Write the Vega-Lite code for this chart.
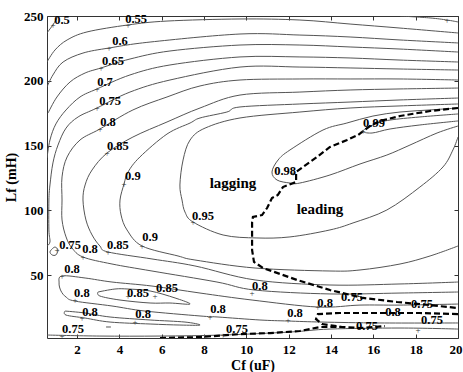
{
"$schema": "https://vega.github.io/schema/vega-lite/v6.json",
"width": 411, "height": 322,
"autosize": {"type": "none"},
"padding": {"left": 47, "top": 16, "right": 5, "bottom": 34},
"background": "white",
"config": {"view": {"stroke": "#333", "strokeWidth": 1}, "font": "Liberation Serif"},
"datasets": {
"contours": [
{"c":"A","o":1,"x":0.58,"y":236.9},{"c":"A","o":2,"x":0.72,"y":240.0},{"c":"A","o":3,"x":0.86,"y":243.1},{"c":"A","o":4,"x":1.0,"y":246.9},{"c":"A","o":5,"x":1.1,"y":250},
{"c":"B","o":1,"x":17.26,"y":250},{"c":"B","o":2,"x":18.68,"y":248.5},{"c":"B","o":3,"x":19.48,"y":246.9},{"c":"B","o":4,"x":20,"y":245.4},
{"c":"C","o":1,"x":0.58,"y":214.5},{"c":"C","o":2,"x":0.96,"y":223.8},{"c":"C","o":3,"x":1.53,"y":231.5},{"c":"C","o":4,"x":2.47,"y":237.7},{"c":"C","o":5,"x":4.41,"y":243.1},{"c":"C","o":6,"x":6.25,"y":246.1},{"c":"C","o":7,"x":9.7,"y":247.7},{"c":"C","o":8,"x":12.53,"y":246.9},{"c":"C","o":9,"x":14.9,"y":243.8},{"c":"C","o":10,"x":17.26,"y":240.7},{"c":"C","o":11,"x":20,"y":236.9},
{"c":"D","o":1,"x":0.58,"y":195.2},{"c":"D","o":2,"x":0.86,"y":204.5},{"c":"D","o":3,"x":1.34,"y":214.5},{"c":"D","o":4,"x":2.28,"y":221.4},{"c":"D","o":5,"x":3.51,"y":225.3},{"c":"D","o":6,"x":5.45,"y":229.9},{"c":"D","o":7,"x":9.7,"y":236.1},{"c":"D","o":8,"x":12.53,"y":235.3},{"c":"D","o":9,"x":14.9,"y":233.8},{"c":"D","o":10,"x":17.26,"y":231.5},{"c":"D","o":11,"x":20,"y":229.2},
{"c":"E","o":1,"x":0.63,"y":175.1},{"c":"E","o":2,"x":1.05,"y":187.5},{"c":"E","o":3,"x":1.67,"y":199.1},{"c":"E","o":4,"x":2.38,"y":206.0},{"c":"E","o":5,"x":3.13,"y":209.9},{"c":"E","o":6,"x":4.5,"y":216.8},{"c":"E","o":7,"x":6.39,"y":223.0},{"c":"E","o":8,"x":9.7,"y":227.6},{"c":"E","o":9,"x":12.53,"y":227.6},{"c":"E","o":10,"x":14.9,"y":226.1},{"c":"E","o":11,"x":17.26,"y":224.5},{"c":"E","o":12,"x":20,"y":222.2},
{"c":"F","o":1,"x":0.58,"y":140.4},{"c":"F","o":2,"x":0.72,"y":154.3},{"c":"F","o":3,"x":1.0,"y":166.7},{"c":"F","o":4,"x":1.48,"y":177.5},{"c":"F","o":5,"x":2.14,"y":187.5},{"c":"F","o":6,"x":2.94,"y":193.7},{"c":"F","o":7,"x":4.5,"y":204.5},{"c":"F","o":8,"x":6.39,"y":212.2},{"c":"F","o":9,"x":9.7,"y":218.4},{"c":"F","o":10,"x":12.53,"y":218.4},{"c":"F","o":11,"x":14.9,"y":217.6},{"c":"F","o":12,"x":17.26,"y":216.0},{"c":"F","o":13,"x":20,"y":214.5},
{"c":"G","o":1,"x":0.58,"y":72.5},{"c":"G","o":2,"x":0.72,"y":75.6},{"c":"G","o":3,"x":0.67,"y":84.9},{"c":"G","o":4,"x":0.67,"y":108.0},{"c":"G","o":5,"x":0.72,"y":119.6},{"c":"G","o":6,"x":0.86,"y":136.6},{"c":"G","o":7,"x":1.1,"y":150.4},{"c":"G","o":8,"x":1.48,"y":163.5},{"c":"G","o":9,"x":2.05,"y":172.1},{"c":"G","o":10,"x":2.94,"y":179.0},{"c":"G","o":11,"x":4.5,"y":191.3},{"c":"G","o":12,"x":6.39,"y":200.6},{"c":"G","o":13,"x":9.7,"y":210.6},{"c":"G","o":14,"x":12.53,"y":210.6},{"c":"G","o":15,"x":14.9,"y":209.9},{"c":"G","o":16,"x":17.26,"y":209.1},{"c":"G","o":17,"x":20,"y":208.3},
{"c":"H","o":1,"x":0.82,"y":70.2},{"c":"H","o":2,"x":0.96,"y":71.7},{"c":"H","o":3,"x":1.1,"y":69.4},{"c":"H","o":4,"x":1.0,"y":65.6},{"c":"H","o":5,"x":0.82,"y":65.6},{"c":"H","o":6,"x":0.72,"y":67.9},{"c":"H","o":7,"x":0.82,"y":70.2},
{"c":"I","o":1,"x":20,"y":200.6},{"c":"I","o":2,"x":17.26,"y":201.4},{"c":"I","o":3,"x":14.9,"y":201.4},{"c":"I","o":4,"x":12.53,"y":201.4},{"c":"I","o":5,"x":9.7,"y":200.6},{"c":"I","o":6,"x":7.81,"y":196.0},{"c":"I","o":7,"x":6.25,"y":187.5},{"c":"I","o":8,"x":4.64,"y":177.5},{"c":"I","o":9,"x":3.08,"y":162.8},{"c":"I","o":10,"x":2.14,"y":154.3},{"c":"I","o":11,"x":1.53,"y":141.2},{"c":"I","o":12,"x":1.29,"y":125.8},{"c":"I","o":13,"x":1.29,"y":108.0},{"c":"I","o":14,"x":1.29,"y":92.6},{"c":"I","o":15,"x":1.48,"y":79.5},{"c":"I","o":16,"x":1.76,"y":71.0},{"c":"I","o":17,"x":2.28,"y":64.0},{"c":"I","o":18,"x":3.65,"y":58.6},{"c":"I","o":19,"x":5.54,"y":53.2},{"c":"I","o":20,"x":8.61,"y":44.7},{"c":"I","o":21,"x":10.41,"y":38.5},{"c":"I","o":22,"x":13.95,"y":35.5},{"c":"I","o":23,"x":17.26,"y":36.2},{"c":"I","o":24,"x":20,"y":37.0},
{"c":"J","o":1,"x":20,"y":194.4},{"c":"J","o":2,"x":17.26,"y":193.7},{"c":"J","o":3,"x":14.9,"y":192.9},{"c":"J","o":4,"x":12.53,"y":191.3},{"c":"J","o":5,"x":9.7,"y":189.0},{"c":"J","o":6,"x":7.81,"y":179.0},{"c":"J","o":7,"x":6.25,"y":168.2},{"c":"J","o":8,"x":4.64,"y":156.6},{"c":"J","o":9,"x":3.42,"y":144.3},{"c":"J","o":10,"x":2.71,"y":131.2},{"c":"J","o":11,"x":2.38,"y":119.6},{"c":"J","o":12,"x":2.28,"y":108.0},{"c":"J","o":13,"x":2.42,"y":92.6},{"c":"J","o":14,"x":2.71,"y":81.0},{"c":"J","o":15,"x":3.08,"y":72.5},{"c":"J","o":16,"x":3.46,"y":67.9},{"c":"J","o":17,"x":5.54,"y":62.5},{"c":"J","o":18,"x":7.57,"y":57.1},{"c":"J","o":19,"x":10.41,"y":46.3},{"c":"J","o":20,"x":13.95,"y":42.4},{"c":"J","o":21,"x":17.26,"y":43.2},{"c":"J","o":22,"x":20,"y":44.7},
{"c":"K","o":1,"x":20,"y":186.7},{"c":"K","o":2,"x":17.26,"y":185.2},{"c":"K","o":3,"x":14.9,"y":183.6},{"c":"K","o":4,"x":12.53,"y":182.1},{"c":"K","o":5,"x":9.7,"y":179.8},{"c":"K","o":6,"x":9.08,"y":175.9},{"c":"K","o":7,"x":7.81,"y":171.3},{"c":"K","o":8,"x":7.34,"y":167.4},{"c":"K","o":9,"x":6.25,"y":158.9},{"c":"K","o":10,"x":4.97,"y":141.2},{"c":"K","o":11,"x":4.41,"y":129.6},{"c":"K","o":12,"x":4.22,"y":120.4},{"c":"K","o":13,"x":4.03,"y":108.0},{"c":"K","o":14,"x":4.08,"y":96.4},{"c":"K","o":15,"x":4.36,"y":84.9},{"c":"K","o":16,"x":5.07,"y":72.5},{"c":"K","o":17,"x":6.77,"y":64.8},{"c":"K","o":18,"x":7.57,"y":61.7},{"c":"K","o":19,"x":10.41,"y":55.5},{"c":"K","o":20,"x":13.95,"y":53.2},{"c":"K","o":21,"x":15.37,"y":54.0},{"c":"K","o":22,"x":17.26,"y":58.6},{"c":"K","o":23,"x":18.68,"y":64.8},{"c":"K","o":24,"x":20,"y":72.5},
{"c":"L","o":1,"x":20,"y":182.1},{"c":"L","o":2,"x":17.26,"y":180.6},{"c":"L","o":3,"x":14.9,"y":179.0},{"c":"L","o":4,"x":12.53,"y":175.9},{"c":"L","o":5,"x":9.7,"y":171.3},{"c":"L","o":6,"x":8.05,"y":163.5},{"c":"L","o":7,"x":7.34,"y":154.3},{"c":"L","o":8,"x":7.01,"y":138.9},{"c":"L","o":9,"x":6.86,"y":119.6},{"c":"L","o":10,"x":6.96,"y":108.0},{"c":"L","o":11,"x":7.1,"y":98.7},{"c":"L","o":12,"x":7.48,"y":91.0},{"c":"L","o":13,"x":8.9,"y":81.0},{"c":"L","o":14,"x":10.5,"y":78.7},{"c":"L","o":15,"x":12.06,"y":79.5},{"c":"L","o":16,"x":13.95,"y":84.9},{"c":"L","o":17,"x":15.04,"y":90.3},{"c":"L","o":18,"x":16.64,"y":100.3},{"c":"L","o":19,"x":18.2,"y":118.0},{"c":"L","o":20,"x":19.29,"y":133.5},{"c":"L","o":21,"x":19.76,"y":146.6},{"c":"L","o":22,"x":20,"y":156.6},
{"c":"M","o":1,"x":20,"y":179.0},{"c":"M","o":2,"x":18.68,"y":177.5},{"c":"M","o":3,"x":17.26,"y":175.9},{"c":"M","o":4,"x":15.98,"y":172.8},{"c":"M","o":5,"x":14.75,"y":167.4},{"c":"M","o":6,"x":13.62,"y":162.0},{"c":"M","o":7,"x":12.06,"y":146.6},{"c":"M","o":8,"x":11.5,"y":138.9},{"c":"M","o":9,"x":11.21,"y":129.6},{"c":"M","o":10,"x":11.45,"y":123.4},{"c":"M","o":11,"x":12.06,"y":121.1},{"c":"M","o":12,"x":12.53,"y":121.1},{"c":"M","o":13,"x":13.95,"y":127.3},{"c":"M","o":14,"x":15.37,"y":135.8},{"c":"M","o":15,"x":16.64,"y":142.7},{"c":"M","o":16,"x":17.73,"y":150.4},{"c":"M","o":17,"x":19.01,"y":159.7},{"c":"M","o":18,"x":20,"y":165.1},
{"c":"N","o":1,"x":20,"y":174.4},{"c":"N","o":2,"x":18.2,"y":172.1},{"c":"N","o":3,"x":16.79,"y":169.7},{"c":"N","o":4,"x":16.08,"y":166.7},{"c":"N","o":5,"x":15.51,"y":161.3},{"c":"N","o":6,"x":15.94,"y":159.7},{"c":"N","o":7,"x":16.79,"y":162.8},{"c":"N","o":8,"x":18.2,"y":165.9},{"c":"N","o":9,"x":20,"y":169.0},
{"c":"O","o":1,"x":2.99,"y":37.0},{"c":"O","o":2,"x":3.79,"y":39.3},{"c":"O","o":3,"x":4.41,"y":39.3},{"c":"O","o":4,"x":5.45,"y":37.8},{"c":"O","o":5,"x":6.63,"y":32.4},{"c":"O","o":6,"x":7.34,"y":27.7},{"c":"O","o":7,"x":6.39,"y":28.5},{"c":"O","o":8,"x":5.45,"y":28.5},{"c":"O","o":9,"x":4.03,"y":30.8},{"c":"O","o":10,"x":3.08,"y":33.9},{"c":"O","o":11,"x":2.99,"y":37.0},
{"c":"P","o":1,"x":20,"y":27.7},{"c":"P","o":2,"x":17.26,"y":26.9},{"c":"P","o":3,"x":15.37,"y":26.9},{"c":"P","o":4,"x":13.38,"y":25.4},{"c":"P","o":5,"x":10.27,"y":30.8},{"c":"P","o":6,"x":7.81,"y":36.2},{"c":"P","o":7,"x":5.54,"y":41.6},{"c":"P","o":8,"x":3.65,"y":44.7},{"c":"P","o":9,"x":2.38,"y":47.8},{"c":"P","o":10,"x":1.29,"y":49.4},{"c":"P","o":11,"x":1.15,"y":44.0},{"c":"P","o":12,"x":1.24,"y":37.8},{"c":"P","o":13,"x":1.48,"y":33.1},{"c":"P","o":14,"x":1.9,"y":30.0},{"c":"P","o":15,"x":3.65,"y":26.2},{"c":"P","o":16,"x":5.21,"y":22.3},{"c":"P","o":17,"x":7.81,"y":18.5},{"c":"P","o":18,"x":8.66,"y":17.7},{"c":"P","o":19,"x":10.64,"y":15.4},{"c":"P","o":20,"x":11.97,"y":14.6},{"c":"P","o":21,"x":13.57,"y":13.8},{"c":"P","o":22,"x":16.31,"y":13.1},{"c":"P","o":23,"x":20,"y":13.1},
{"c":"Q","o":1,"x":1.43,"y":22.3},{"c":"Q","o":2,"x":2.38,"y":20.8},{"c":"Q","o":3,"x":3.56,"y":17.7},{"c":"Q","o":4,"x":5.45,"y":15.4},{"c":"Q","o":5,"x":7.1,"y":13.8},{"c":"Q","o":6,"x":7.81,"y":11.5},{"c":"Q","o":7,"x":6.86,"y":11.5},{"c":"Q","o":8,"x":5.45,"y":12.3},{"c":"Q","o":9,"x":3.56,"y":13.8},{"c":"Q","o":10,"x":2.38,"y":16.9},{"c":"Q","o":11,"x":1.48,"y":19.2},{"c":"Q","o":12,"x":1.43,"y":22.3},
{"c":"R","o":1,"x":3.37,"y":10.0},{"c":"R","o":2,"x":3.6,"y":10.0},
{"c":"S","o":1,"x":0.58,"y":3.8},{"c":"S","o":2,"x":3.08,"y":3.0},{"c":"S","o":3,"x":5.92,"y":3.0},{"c":"S","o":4,"x":8.9,"y":3.8},{"c":"S","o":5,"x":12.06,"y":6.1},{"c":"S","o":6,"x":13.95,"y":8.4},{"c":"S","o":7,"x":17.26,"y":9.2},{"c":"S","o":8,"x":20,"y":8.4}
],
"dash": [
{"d":"1","o":1,"x":20,"y":179.0},{"d":"1","o":2,"x":18.68,"y":176.7},{"d":"1","o":3,"x":17.26,"y":172.8},{"d":"1","o":4,"x":16.31,"y":169.0},{"d":"1","o":5,"x":15.84,"y":165.1},{"d":"1","o":6,"x":15.28,"y":158.2},{"d":"1","o":7,"x":14.76,"y":154.3},{"d":"1","o":8,"x":13.95,"y":148.9},{"d":"1","o":9,"x":13.34,"y":141.2},{"d":"1","o":10,"x":12.68,"y":133.5},{"d":"1","o":11,"x":12.35,"y":129.6},{"d":"1","o":12,"x":12.35,"y":121.9},{"d":"1","o":13,"x":11.73,"y":118.0},{"d":"1","o":14,"x":11.49,"y":111.9},{"d":"1","o":15,"x":11.21,"y":109.5},{"d":"1","o":16,"x":10.98,"y":101.8},{"d":"1","o":17,"x":10.74,"y":96.4},{"d":"1","o":18,"x":10.31,"y":94.9},{"d":"1","o":19,"x":10.27,"y":91.0},{"d":"1","o":20,"x":10.27,"y":69.4},{"d":"1","o":21,"x":10.36,"y":60.2},{"d":"1","o":22,"x":10.79,"y":55.5},{"d":"1","o":23,"x":12.39,"y":46.3},{"d":"1","o":24,"x":13.95,"y":38.5},{"d":"1","o":25,"x":15.51,"y":32.4},{"d":"1","o":26,"x":17.12,"y":29.3},{"d":"1","o":27,"x":18.68,"y":26.9},{"d":"1","o":28,"x":20,"y":24.6},
{"d":"2","o":1,"x":20,"y":20.0},{"d":"2","o":2,"x":18.2,"y":20.8},{"d":"2","o":3,"x":16.31,"y":20.8},{"d":"2","o":4,"x":14.42,"y":20.8},{"d":"2","o":5,"x":13.38,"y":20.0},{"d":"2","o":6,"x":13.29,"y":16.1},{"d":"2","o":7,"x":13.57,"y":12.3},{"d":"2","o":8,"x":14.52,"y":10.0},{"d":"2","o":9,"x":15.37,"y":9.2},{"d":"2","o":10,"x":16.55,"y":10.7},
{"d":"3","o":1,"x":5.92,"y":1.5},{"d":"3","o":2,"x":7.81,"y":2.2},{"d":"3","o":3,"x":9.7,"y":4.5},{"d":"3","o":4,"x":11.12,"y":5.3},{"d":"3","o":5,"x":12.53,"y":6.9},{"d":"3","o":6,"x":13.48,"y":10.0},{"d":"3","o":7,"x":14.52,"y":10.0}
],
"labels": [
{"t":"0.5","x":1.29,"y":246.9},{"t":"0.55","x":4.79,"y":247.7},{"t":"0.6","x":4.03,"y":230.7},{"t":"0.65","x":3.7,"y":215.3},{"t":"0.7","x":3.32,"y":199.1},{"t":"0.75","x":3.56,"y":184.4},{"t":"0.8","x":3.46,"y":168.2},{"t":"0.85","x":3.93,"y":149.7},{"t":"0.9","x":4.64,"y":126.5},{"t":"0.95","x":7.95,"y":95.7},{"t":"0.98","x":11.83,"y":130.4},{"t":"0.99","x":16.03,"y":167.4},
{"t":"0.75","x":1.67,"y":73.3},{"t":"0.8","x":2.61,"y":70.2},{"t":"0.85","x":3.93,"y":73.3},{"t":"0.9","x":5.45,"y":79.5},
{"t":"0.8","x":1.76,"y":54.8},{"t":"0.8","x":2.23,"y":36.2},{"t":"0.85","x":4.88,"y":36.2},{"t":"0.85","x":6.25,"y":40.1},{"t":"0.8","x":2.61,"y":21.6},{"t":"0.8","x":5.12,"y":20.0},{"t":"0.8","x":8.66,"y":23.9},{"t":"0.75","x":1.81,"y":8.5},{"t":"0.75","x":9.56,"y":8.4},
{"t":"0.8","x":10.64,"y":41.6},{"t":"0.8","x":13.72,"y":28.5},{"t":"0.8","x":12.3,"y":20.8},{"t":"0.75","x":14.99,"y":33.1},{"t":"0.75","x":18.3,"y":27.7},{"t":"0.8","x":16.93,"y":21.6},{"t":"0.75","x":15.7,"y":10.7},{"t":"0.75","x":18.77,"y":15.4}
],
"plus": [
{"x":0.86,"y":243.1},{"x":4.41,"y":243.1},{"x":3.51,"y":225.3},{"x":3.13,"y":209.9},{"x":2.94,"y":193.7},{"x":2.94,"y":179.0},{"x":3.08,"y":162.8},{"x":3.42,"y":144.3},{"x":4.22,"y":120.4},{"x":7.48,"y":91.0},{"x":12.2,"y":128.8},{"x":15.51,"y":161.3},{"x":1.05,"y":69.4},{"x":2.28,"y":64.0},{"x":3.46,"y":67.9},{"x":5.07,"y":72.5},{"x":1.29,"y":49.4},{"x":1.9,"y":30.8},{"x":4.41,"y":33.9},{"x":5.68,"y":33.9},{"x":2.23,"y":16.9},{"x":4.74,"y":13.8},{"x":8.28,"y":17.7},{"x":8.9,"y":3.8},{"x":1.29,"y":3.0},{"x":10.27,"y":36.2},{"x":13.38,"y":25.4},{"x":11.97,"y":15.4},{"x":18.11,"y":7.6},{"x":19.48,"y":246.9}
],
"regions": [
{"t":"lagging","x":9.37,"y":121.1},{"t":"leading","x":13.48,"y":101.1}
]
},
"layer": [
{
"data": {"name": "contours"},
"mark": {"type": "line", "stroke": "#555", "strokeWidth": 1, "interpolate": "cardinal", "clip": true},
"encoding": {
"x": {"field": "x", "type": "quantitative", "scale": {"domain": [0.58, 20], "nice": false, "zero": false},
"axis": {"orient": "bottom", "values": [2,4,6,8,10,12,14,16,18,20], "title": "Cf (uF)", "grid": false, "domain": false, "tickSize": -4, "tickColor": "#333", "labelPadding": 9, "labelFlush": true, "labelFlushOffset": 4, "labelFont": "Liberation Serif", "labelFontWeight": "bold", "labelFontSize": 13, "labelColor": "#000", "titleFont": "Liberation Serif", "titleFontWeight": "bold", "titleFontSize": 14, "titleColor": "#000", "titlePadding": 2}},
"y": {"field": "y", "type": "quantitative", "scale": {"domain": [1.5, 250], "nice": false, "zero": false},
"axis": {"orient": "left", "values": [50,100,150,200,250], "title": "Lf (mH)", "grid": false, "domain": false, "tickSize": -4, "tickColor": "#333", "labelPadding": 8, "labelFlush": false, "labelFont": "Liberation Serif", "labelFontWeight": "bold", "labelFontSize": 13, "labelColor": "#000", "titleFont": "Liberation Serif", "titleFontWeight": "bold", "titleFontSize": 14, "titleColor": "#000", "titlePadding": 5}},
"detail": {"field": "c"},
"order": {"field": "o", "type": "quantitative"}
}
},
{
"data": {"name": "dash"},
"mark": {"type": "line", "stroke": "#000", "strokeWidth": 2.2, "strokeDash": [6, 3], "clip": true},
"encoding": {
"x": {"field": "x", "type": "quantitative", "scale": {"domain": [0.58, 20], "nice": false, "zero": false}, "axis": null},
"y": {"field": "y", "type": "quantitative", "scale": {"domain": [1.5, 250], "nice": false, "zero": false}, "axis": null},
"detail": {"field": "d"},
"order": {"field": "o", "type": "quantitative"}
}
},
{
"data": {"name": "plus"},
"mark": {"type": "text", "text": "+", "fontSize": 9, "color": "#333", "baseline": "middle", "align": "center"},
"encoding": {
"x": {"field": "x", "type": "quantitative", "scale": {"domain": [0.58, 20], "nice": false, "zero": false},
"axis": {"orient": "top", "values": [2,4,6,8,10,12,14,16,18,20], "labels": false, "title": null, "grid": false, "domain": false, "tickSize": -4, "tickColor": "#333"}},
"y": {"field": "y", "type": "quantitative", "scale": {"domain": [1.5, 250], "nice": false, "zero": false},
"axis": {"orient": "right", "values": [50,100,150,200,250], "labels": false, "title": null, "grid": false, "domain": false, "tickSize": -4, "tickColor": "#333"}}
}
},
{
"data": {"name": "labels"},
"mark": {"type": "text", "font": "Liberation Serif", "fontWeight": "bold", "fontSize": 12.5, "color": "#000", "baseline": "middle", "align": "center"},
"encoding": {
"x": {"field": "x", "type": "quantitative", "scale": {"domain": [0.58, 20], "nice": false, "zero": false}, "axis": null},
"y": {"field": "y", "type": "quantitative", "scale": {"domain": [1.5, 250], "nice": false, "zero": false}, "axis": null},
"text": {"field": "t"}
}
},
{
"data": {"name": "regions"},
"mark": {"type": "text", "font": "Liberation Serif", "fontWeight": "bold", "fontSize": 15, "color": "#000", "baseline": "middle", "align": "center"},
"encoding": {
"x": {"field": "x", "type": "quantitative", "scale": {"domain": [0.58, 20], "nice": false, "zero": false}, "axis": null},
"y": {"field": "y", "type": "quantitative", "scale": {"domain": [1.5, 250], "nice": false, "zero": false}, "axis": null},
"text": {"field": "t"}
}
}
],
"resolve": {"axis": {"x": "independent", "y": "independent"}}
}
